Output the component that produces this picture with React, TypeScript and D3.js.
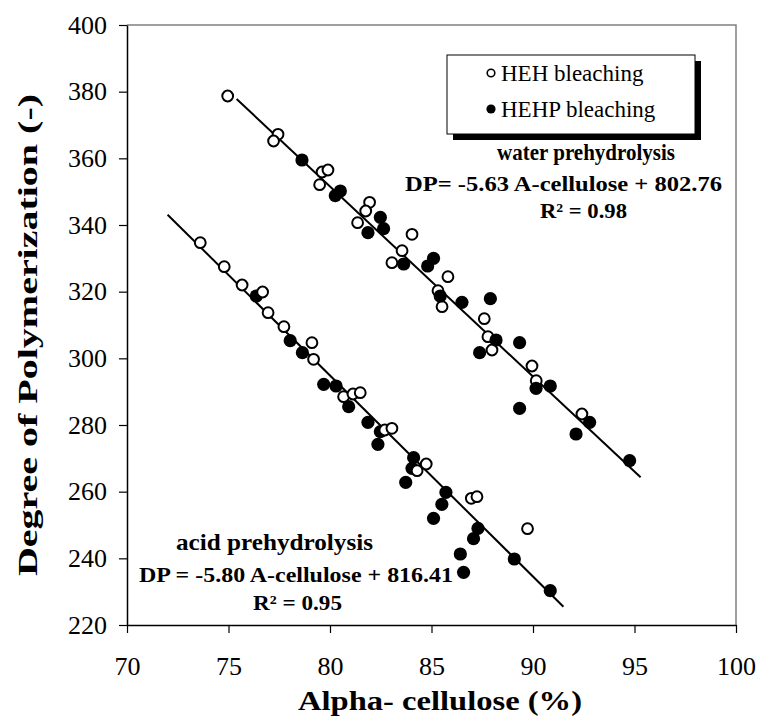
import React, { useEffect, useRef } from 'react';
import * as d3 from 'd3';

// water prehydrolysis, HEH bleaching (open)
const waterHehX = [74.96, 77.44, 77.22, 79.61, 79.9, 79.49, 81.95, 81.76, 81.36, 84.04, 83.55, 83.05, 85.81, 85.32, 85.52, 87.6, 87.78, 87.98, 89.95, 90.16, 92.41];
const waterHehY = [378.7, 367.2, 365.2, 355.9, 356.5, 352.1, 346.8, 344.2, 340.7, 337.2, 332.3, 328.7, 324.5, 320.3, 315.5, 311.9, 306.5, 302.5, 297.7, 293.3, 283.3];
// water prehydrolysis, HEHP bleaching (filled)
const waterHehpX = [78.62, 80.26, 80.51, 82.48, 82.64, 81.87, 83.63, 85.1, 84.81, 85.43, 86.5, 87.9, 88.18, 87.37, 89.34, 90.15, 90.85, 89.34, 92.79, 92.12, 94.76];
const waterHehpY = [359.5, 348.8, 350.2, 342.3, 338.9, 337.7, 328.3, 330.0, 327.7, 318.7, 316.8, 317.9, 305.5, 301.7, 304.7, 291.0, 291.7, 285.0, 280.8, 277.3, 269.3];
// acid prehydrolysis, HEH bleaching (open)
const acidHehX = [73.61, 74.79, 75.67, 76.68, 76.95, 77.73, 79.11, 79.19, 80.67, 81.13, 81.49, 82.7, 83.05, 84.29, 84.74, 86.96, 87.24, 89.73];
const acidHehY = [334.7, 327.5, 322.0, 319.9, 313.7, 309.5, 304.7, 299.7, 288.5, 289.3, 289.7, 278.5, 279.0, 266.3, 268.3, 258.0, 258.5, 248.9];
// acid prehydrolysis, HEHP bleaching (filled)
const acidHehpX = [76.37, 78.04, 78.64, 79.69, 80.3, 80.92, 81.87, 82.48, 82.36, 84.12, 84.04, 83.73, 85.71, 85.51, 85.1, 87.29, 87.07, 86.42, 86.58, 89.08, 90.85];
const acidHehpY = [318.7, 305.3, 301.7, 292.2, 291.7, 285.5, 280.8, 278.0, 274.2, 270.2, 267.0, 262.8, 259.8, 256.2, 252.0, 249.0, 245.9, 241.3, 235.8, 239.8, 230.3];

// trend lines (end points)
const waterFitX = [75.4, 95.3];
const waterFitY = [377.8, 264.3];
const acidFitX = [72.0, 91.5];
const acidFitY = [343.1, 225.5];

const xTicks = [70, 75, 80, 85, 90, 95, 100];
const yTicks = [220, 240, 260, 280, 300, 320, 340, 360, 380, 400];
const legendLabels = ['HEH bleaching', 'HEHP bleaching'];

const FONT = '"Liberation Serif", "Times New Roman", Times, serif';

const App = () => {
  const svgRef = useRef(null);

  useEffect(() => {
    const width = 760;
    const height = 717;
    const svg = d3.select(svgRef.current)
      .attr('width', width)
      .attr('height', height)
      .style('font-family', FONT);
    svg.selectAll('*').remove();

    const left = 127, right = 736, top = 25, bottom = 625;

    const xScale = d3.scaleLinear().domain([70, 100]).range([left, right]);
    const yScale = d3.scaleLinear().domain([220, 400]).range([bottom, top]);

    // plot frame (top / right grey)
    svg.append('path')
      .attr('d', `M${left},${top}H${right}V${bottom}`)
      .attr('fill', 'none')
      .attr('stroke', '#808080')
      .attr('stroke-width', 1.5);

    const xAxis = d3.axisBottom(xScale).tickValues(xTicks).tickSize(8).tickSizeOuter(0).tickFormat(d3.format('d'));
    const yAxis = d3.axisLeft(yScale).tickValues(yTicks).tickSize(8).tickSizeOuter(0).tickFormat(d3.format('d'));

    const gx = svg.append('g')
      .attr('transform', `translate(0, ${bottom})`)
      .call(xAxis)
      .attr('font-family', null);
    gx.select('.domain').attr('stroke', '#000').attr('stroke-width', 1.5);
    gx.selectAll('.tick line').attr('stroke', '#000').attr('stroke-width', 1.2);
    gx.selectAll('.tick text')
      .style('font-family', FONT)
      .attr('font-size', 26)
      .attr('fill', '#000')
      .attr('dy', null)
      .attr('y', 50);

    const gy = svg.append('g')
      .attr('transform', `translate(${left}, 0)`)
      .call(yAxis)
      .attr('font-family', null);
    gy.select('.domain').attr('stroke', '#000').attr('stroke-width', 1.5);
    gy.selectAll('.tick line').attr('stroke', '#000').attr('stroke-width', 1.2);
    gy.selectAll('.tick text')
      .style('font-family', FONT)
      .attr('font-size', 26)
      .attr('fill', '#000')
      .attr('x', -20)
      .attr('dy', '0.32em');

    // axis titles
    svg.append('text')
      .attr('x', 298)
      .attr('y', 710)
      .style('font-family', FONT)
      .attr('font-weight', 'bold')
      .attr('font-size', 28)
      .attr('textLength', 284)
      .attr('lengthAdjust', 'spacingAndGlyphs')
      .text('Alpha- cellulose (%)');

    svg.append('text')
      .attr('transform', 'translate(37, 335) rotate(-90)')
      .attr('x', -241)
      .style('font-family', FONT)
      .attr('font-weight', 'bold')
      .attr('font-size', 27)
      .attr('textLength', 482)
      .attr('lengthAdjust', 'spacingAndGlyphs')
      .text('Degree of Polymerization (-)');

    // fit lines
    const line = d3.line()
      .x((d) => xScale(d[0]))
      .y((d) => yScale(d[1]));

    [[waterFitX, waterFitY], [acidFitX, acidFitY]].forEach(([xs, ys]) => {
      svg.append('path')
        .datum(xs.map((x, i) => [x, ys[i]]))
        .attr('d', line)
        .attr('fill', 'none')
        .attr('stroke', '#000')
        .attr('stroke-width', 2);
    });

    const drawPoints = (xs, ys, filled) => {
      svg.append('g')
        .selectAll('circle')
        .data(xs.map((x, i) => [x, ys[i]]))
        .enter()
        .append('circle')
        .attr('cx', (d) => xScale(d[0]))
        .attr('cy', (d) => yScale(d[1]))
        .attr('r', filled ? 6.6 : 5.4)
        .attr('fill', filled ? '#000' : '#fff')
        .attr('stroke', filled ? 'none' : '#000')
        .attr('stroke-width', 2);
    };

    drawPoints(acidHehpX, acidHehpY, true);
    drawPoints(acidHehX, acidHehY, false);
    drawPoints(waterHehX, waterHehY, false);
    drawPoints(waterHehpX, waterHehpY, true);

    // legend with shadow
    const lg = svg.append('g').attr('transform', 'translate(447, 55)');
    lg.append('rect').attr('x', 6).attr('y', 6).attr('width', 248).attr('height', 79).attr('fill', '#000');
    lg.append('rect').attr('width', 248).attr('height', 79).attr('fill', '#fff').attr('stroke', '#000').attr('stroke-width', 1);
    legendLabels.forEach((label, i) => {
      const cy = 18 + i * 36;
      lg.append('circle')
        .attr('cx', 44)
        .attr('cy', cy)
        .attr('r', i === 0 ? 3.8 : 4.6)
        .attr('fill', i === 0 ? '#fff' : '#000')
        .attr('stroke', i === 0 ? '#000' : 'none')
        .attr('stroke-width', 1.6);
      lg.append('text')
        .attr('x', 54)
        .attr('y', cy + 8)
        .style('font-family', FONT)
        .attr('font-size', 23)
        .text(label);
    });

    // regression annotations
    const note = (x, y, txt, size, len) => {
      svg.append('text')
        .attr('x', x)
        .attr('y', y)
        .style('font-family', FONT)
        .attr('font-weight', 'bold')
        .attr('font-size', size)
        .attr('textLength', len)
        .attr('lengthAdjust', 'spacingAndGlyphs')
        .text(txt);
    };

    note(497, 160, 'water prehydrolysis', 23, 178);
    note(405, 191, 'DP= -5.63 A-cellulose + 802.76', 21, 317);
    note(540, 218, 'R² = 0.98', 21, 87);

    note(176, 550, 'acid prehydrolysis', 23, 197);
    note(139, 582, 'DP = -5.80 A-cellulose + 816.41', 21, 314);
    note(253, 610, 'R² = 0.95', 21, 89);
  }, []);

  return <svg ref={svgRef} style={{ position: 'absolute', left: 0, top: 0 }} />;
};

export default App;
